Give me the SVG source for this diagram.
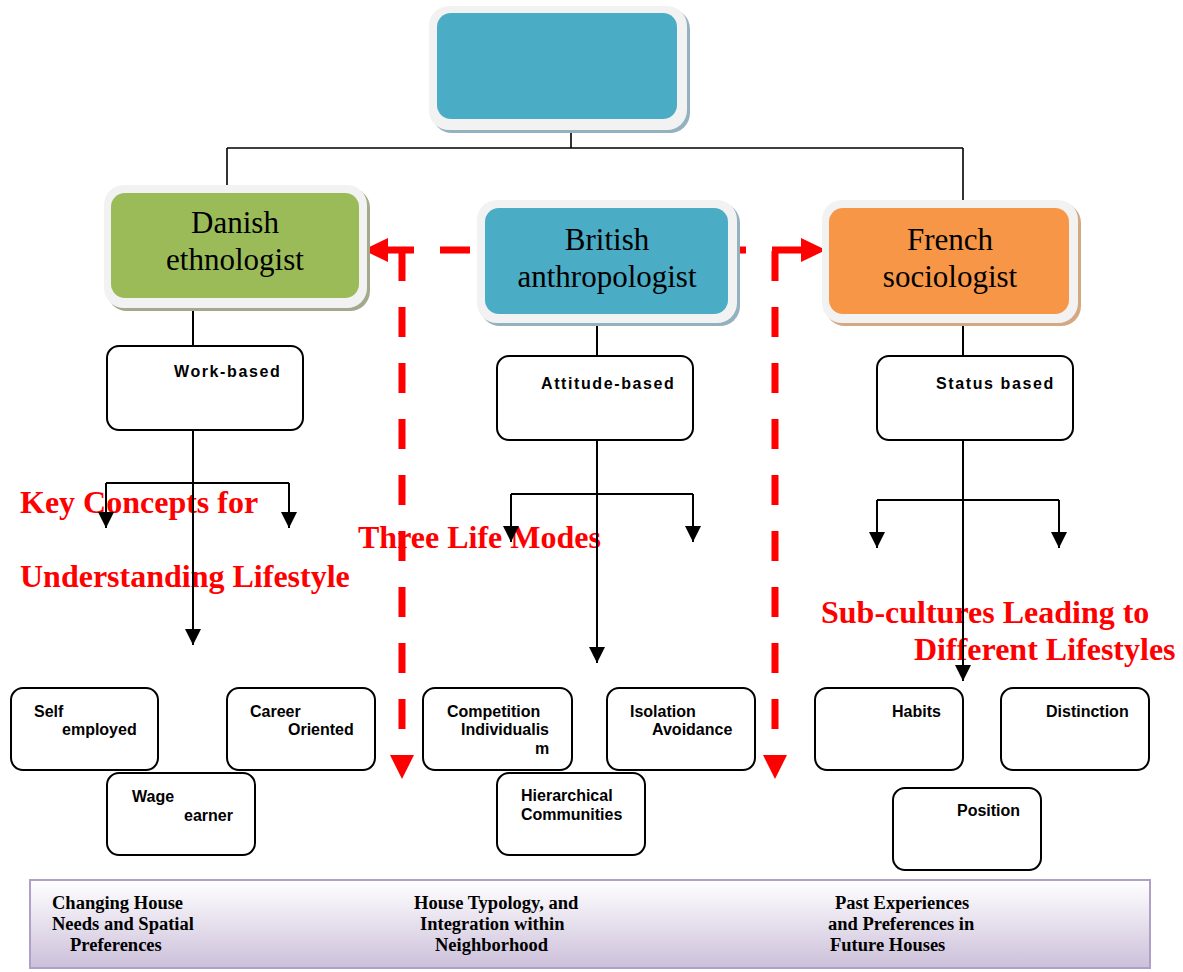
<svg xmlns="http://www.w3.org/2000/svg" width="1183" height="972" viewBox="0 0 1183 972">
  <defs>
    <marker id="arrow" viewBox="0 0 16 16" refX="16" refY="8" markerWidth="16" markerHeight="16" markerUnits="userSpaceOnUse" orient="auto">
      <path d="M0,0 L16,8 L0,16 Z" fill="#000"/>
    </marker>
    <linearGradient id="bannerFill" x1="0" y1="0" x2="0" y2="1">
      <stop offset="0" stop-color="#ffffff"/>
      <stop offset="1" stop-color="#ccc0da"/>
    </linearGradient>
    <style>
      .frame { fill: #f2f2f2; }
      .title { font-family: "Liberation Serif", "Times New Roman", serif; font-size: 31px; fill: #000; text-anchor: middle; }
      .box { fill: #fff; stroke: #000; stroke-width: 2; }
      .lbl { font-family: "Liberation Sans", Arial, sans-serif; font-size: 16px; font-weight: bold; fill: #000; }
      .wide { letter-spacing: 1.6px; }
      .note { font-family: "Liberation Serif", "Times New Roman", serif; font-size: 32px; font-weight: bold; fill: #ff0000; }
      .foot { font-family: "Liberation Serif", "Times New Roman", serif; font-size: 18.5px; font-weight: bold; fill: #000; }
      .tree { fill: none; stroke: #000; stroke-width: 2; }
      .tree-top { fill: none; stroke: #000; stroke-width: 1.6; }
      .dash { fill: none; stroke: #ff0000; stroke-width: 7; stroke-dasharray: 30 26; }
      .red-head { fill: #ff0000; }
    </style>
  </defs>

  <!-- red headings -->
  <g id="headings">
    <text class="note" x="20" y="513">Key Concepts for</text>
    <text class="note" x="20" y="587">Understanding Lifestyle</text>
    <text class="note" x="358" y="548">Three Life Modes</text>
    <text class="note" x="821" y="623">Sub-cultures Leading to</text>
    <text class="note" x="914" y="660">Different Lifestyles</text>
  </g>

  <g id="connectors">
    <!-- hierarchy lines from the top box -->
    <path class="tree-top" d="M571,130 V148 M227,148 H963 M227,148 V186 M963,148 V200"/>
    <!-- Danish branch -->
    <path class="tree" d="M193,308 V346"/>
    <path class="tree" d="M193,430 V645" marker-end="url(#arrow)"/>
    <path class="tree" d="M106,483 H289"/>
    <path class="tree" d="M106,483 V528" marker-end="url(#arrow)"/>
    <path class="tree" d="M289,483 V528" marker-end="url(#arrow)"/>
    <!-- British branch -->
    <path class="tree" d="M597,323 V356"/>
    <path class="tree" d="M597,440 V663" marker-end="url(#arrow)"/>
    <path class="tree" d="M511,494 H693"/>
    <path class="tree" d="M511,494 V542" marker-end="url(#arrow)"/>
    <path class="tree" d="M693,494 V542" marker-end="url(#arrow)"/>
    <!-- French branch -->
    <path class="tree" d="M963,323 V356"/>
    <path class="tree" d="M963,440 V681" marker-end="url(#arrow)"/>
    <path class="tree" d="M877,500 H1059"/>
    <path class="tree" d="M877,500 V548" marker-end="url(#arrow)"/>
    <path class="tree" d="M1059,500 V548" marker-end="url(#arrow)"/>
    <!-- red dashed links -->
    <path class="dash" d="M470,250 H387"/>
    <path class="dash" d="M402,251 V757"/>
    <polygon class="red-head" points="363,250 388,238 388,262"/>
    <polygon class="red-head" points="390,755 414,755 402,779"/>
    <path class="dash" d="M802,250 H716"/>
    <path class="dash" d="M775,251 V757"/>
    <polygon class="red-head" points="826,250 801,238 801,262"/>
    <polygon class="red-head" points="763,755 787,755 775,779"/>
  </g>

  <!-- top node -->
  <g id="root">
    <rect x="432" y="9" width="258" height="124" rx="20" fill="#93b1bf"/>
    <rect class="frame" x="429" y="6" width="258" height="124" rx="20"/>
    <rect x="437" y="13" width="240" height="106" rx="14" fill="#4bacc6"/>
  </g>

  <g id="danish">
    <rect x="107" y="188" width="263" height="123" rx="20" fill="#a3a98c"/>
    <rect class="frame" x="104" y="185" width="263" height="123" rx="20"/>
    <rect x="111" y="193" width="248" height="105" rx="14" fill="#9bbb59"/>
    <text class="title" x="235" y="233">Danish</text>
    <text class="title" x="235" y="270">ethnologist</text>
  </g>

  <g id="british">
    <rect x="480" y="203" width="260" height="123" rx="20" fill="#93b1bf"/>
    <rect class="frame" x="477" y="200" width="260" height="123" rx="20"/>
    <rect x="485" y="208" width="243" height="106" rx="14" fill="#4bacc6"/>
    <text class="title" x="607" y="250">British</text>
    <text class="title" x="607" y="287">anthropologist</text>
  </g>

  <g id="french">
    <rect x="825" y="203" width="256" height="123" rx="20" fill="#d4a882"/>
    <rect class="frame" x="822" y="200" width="256" height="123" rx="20"/>
    <rect x="829" y="208" width="240" height="106" rx="14" fill="#f79646"/>
    <text class="title" x="950" y="250">French</text>
    <text class="title" x="950" y="287">sociologist</text>
  </g>

  <!-- mode boxes -->
  <g id="work-based">
    <rect class="box" x="107" y="346" width="196" height="84" rx="12"/>
    <text class="lbl wide" x="174" y="377">Work-based</text>
  </g>
  <g id="attitude-based">
    <rect class="box" x="497" y="356" width="196" height="84" rx="12"/>
    <text class="lbl wide" x="541" y="389">Attitude-based</text>
  </g>
  <g id="status-based">
    <rect class="box" x="877" y="356" width="196" height="84" rx="12"/>
    <text class="lbl wide" x="936" y="389">Status based</text>
  </g>

  <!-- leaf boxes -->
  <g id="self-employed">
    <rect class="box" x="11" y="688" width="147" height="82" rx="12"/>
    <text class="lbl" x="34" y="717">Self</text>
    <text class="lbl" x="62" y="735">employed</text>
  </g>
  <g id="career-oriented">
    <rect class="box" x="227" y="688" width="148" height="82" rx="12"/>
    <text class="lbl" x="250" y="717">Career</text>
    <text class="lbl" x="288" y="735">Oriented</text>
  </g>
  <g id="wage-earner">
    <rect class="box" x="107" y="773" width="148" height="82" rx="12"/>
    <text class="lbl" x="132" y="802">Wage</text>
    <text class="lbl" x="184" y="821">earner</text>
  </g>
  <g id="competition">
    <rect class="box" x="423" y="688" width="149" height="82" rx="12"/>
    <text class="lbl" x="447" y="717">Competition</text>
    <text class="lbl" x="461" y="735">Individualis</text>
    <text class="lbl" x="535" y="754">m</text>
  </g>
  <g id="isolation">
    <rect class="box" x="607" y="688" width="148" height="82" rx="12"/>
    <text class="lbl" x="630" y="717">Isolation</text>
    <text class="lbl" x="652" y="735">Avoidance</text>
  </g>
  <g id="hierarchical">
    <rect class="box" x="497" y="773" width="148" height="82" rx="12"/>
    <text class="lbl" x="521" y="801">Hierarchical</text>
    <text class="lbl" x="521" y="820">Communities</text>
  </g>
  <g id="habits">
    <rect class="box" x="815" y="688" width="148" height="82" rx="12"/>
    <text class="lbl" x="892" y="717">Habits</text>
  </g>
  <g id="distinction">
    <rect class="box" x="1001" y="688" width="148" height="82" rx="12"/>
    <text class="lbl" x="1046" y="717">Distinction</text>
  </g>
  <g id="position">
    <rect class="box" x="893" y="788" width="148" height="82" rx="12"/>
    <text class="lbl" x="957" y="816">Position</text>
  </g>

  <!-- bottom banner -->
  <g id="banner">
    <rect x="30" y="880" width="1120" height="88" fill="url(#bannerFill)" stroke="#b09fc6" stroke-width="2"/>
    <text class="foot" x="52" y="909">Changing House</text>
    <text class="foot" x="52" y="930">Needs and Spatial</text>
    <text class="foot" x="70" y="951">Preferences</text>
    <text class="foot" x="414" y="909">House Typology, and</text>
    <text class="foot" x="420" y="930">Integration within</text>
    <text class="foot" x="435" y="951">Neighborhood</text>
    <text class="foot" x="835" y="909">Past Experiences</text>
    <text class="foot" x="828" y="930">and Preferences in</text>
    <text class="foot" x="830" y="951">Future Houses</text>
  </g>
</svg>
